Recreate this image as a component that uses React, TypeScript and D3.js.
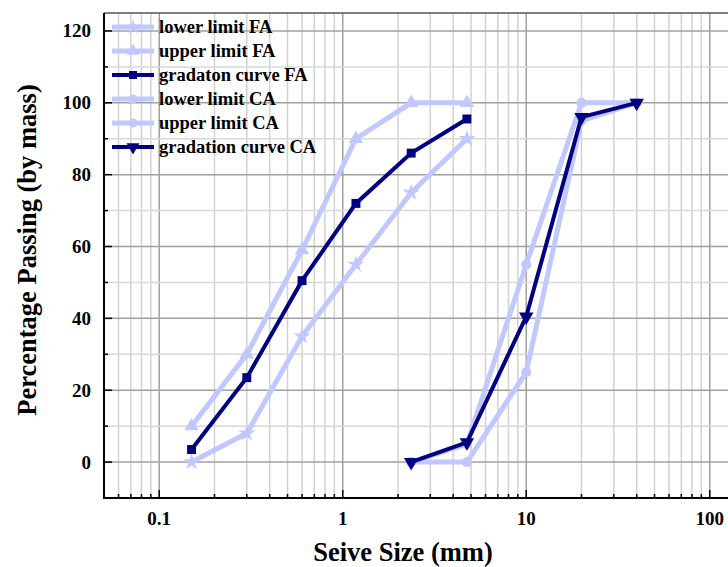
import React from "react";
import * as d3 from "d3";

const sieveFA = [0.15, 0.3, 0.6, 1.18, 2.36, 4.75];
const lowerFA = [0, 8, 35, 55, 75, 90];
const upperFA = [10, 30, 59, 90, 100, 100];
const gradFA = [3.5, 23.5, 50.5, 72, 86, 95.5];

const sieveCALower = [2.36, 4.75, 10, 20, 40];
const lowerCA = [0, 0, 25, 95, 100];
const sieveCAUpper = [2.36, 4.75, 10, 20, 40];
const upperCA = [0, 5, 55, 100, 100];
const sieveCAGrad = [2.36, 4.75, 10, 20, 40];
const gradCA = [0, 5.5, 40.5, 96, 100];

const xTickValues = [0.1, 1, 10, 100];
const xTickLabels = ["0.1", "1", "10", "100"];
const yTickValues = [0, 20, 40, 60, 80, 100, 120];

const LIGHT = "#c0c8ff";
const DARK = "#000080";
const FONT = "'Liberation Serif', 'Times New Roman', serif";

type Series = {
  name: string;
  xs: number[];
  ys: number[];
  color: string;
  width: number;
  symbol: d3.SymbolType;
  rotate: number;
  size: number;
};

const series: Series[] = [
  { name: "lower limit FA", xs: sieveFA, ys: lowerFA, color: LIGHT, width: 5, symbol: d3.symbolStar, rotate: 0, size: 90 },
  { name: "upper limit FA", xs: sieveFA, ys: upperFA, color: LIGHT, width: 5, symbol: d3.symbolTriangle, rotate: 0, size: 90 },
  { name: "gradaton curve FA", xs: sieveFA, ys: gradFA, color: DARK, width: 4, symbol: d3.symbolSquare, rotate: 0, size: 80 },
  { name: "lower limit CA", xs: sieveCALower, ys: lowerCA, color: LIGHT, width: 5, symbol: d3.symbolCircle, rotate: 0, size: 80 },
  { name: "upper limit  CA", xs: sieveCAUpper, ys: upperCA, color: LIGHT, width: 5, symbol: d3.symbolCircle, rotate: 0, size: 80 },
  { name: "gradation curve CA", xs: sieveCAGrad, ys: gradCA, color: DARK, width: 4, symbol: d3.symbolTriangle, rotate: 180, size: 90 },
];

export default function App() {
  const W = 728;
  const H = 567;
  const left = 104;
  const top = 13;
  const bottom = 498;
  const x = d3.scaleLog().domain([0.05, 200]).range([left, left + 183.5 * Math.log10(4000)]);
  const y = d3.scaleLinear().domain([-10, 125]).range([bottom, top]);
  const right = W + 5;

  const minorX: number[] = [];
  for (let e = -2; e <= 2; e++) {
    for (let m = 1; m <= 9; m++) {
      const v = m * Math.pow(10, e);
      if (v >= 0.05 && v <= 200) minorX.push(v);
    }
  }
  const yGrid = d3.range(-10, 121, 10);

  const line = d3
    .line<[number, number]>()
    .x((d) => x(d[0]))
    .y((d) => y(d[1]));

  return (
    <div style={{ position: "absolute", left: 0, top: 0 }}>
      <svg width={W} height={H} style={{ display: "block", background: "#fff" }}>
        {/* vertical grid */}
        {minorX.map((v, i) => {
          const major = Math.abs(Math.log10(v) - Math.round(Math.log10(v))) < 1e-9;
          return (
            <line key={"vx" + i} x1={x(v)} x2={x(v)} y1={top} y2={bottom}
              stroke={major ? "#a0a0a0" : "#d2d2d2"} strokeWidth={1.5} />
          );
        })}
        {/* horizontal grid */}
        {yGrid.map((v) => {
          const major = v % 20 === 0;
          return (
            <line key={"hy" + v} x1={left} x2={right} y1={y(v)} y2={y(v)}
              stroke={major ? "#a0a0a0" : "#d8d8d8"} strokeWidth={1.5} />
          );
        })}

        {/* series */}
        {series.map((s, si) => {
          const pts: [number, number][] = s.xs.map((xv, i) => [xv, s.ys[i]]);
          const sym = d3.symbol().type(s.symbol).size(s.size)();
          return (
            <g key={"s" + si}>
              <path d={line(pts) || ""} fill="none" stroke={s.color} strokeWidth={s.width} strokeLinejoin="miter" />
              {pts.map((p, i) => (
                <path key={i} d={sym || ""} fill={s.color}
                  transform={`translate(${x(p[0])},${y(p[1])}) rotate(${s.rotate})`} />
              ))}
            </g>
          );
        })}

        {/* frame */}
        <line x1={left} x2={right} y1={top} y2={top} stroke="#555" strokeWidth={1.5} />
        <line x1={left} x2={left} y1={top} y2={bottom + 1} stroke="#000" strokeWidth={2} />
        <line x1={left - 1} x2={right} y1={bottom} y2={bottom} stroke="#000" strokeWidth={2} />

        {/* y ticks */}
        {yGrid.map((v) => {
          const major = v % 20 === 0;
          return (
            <line key={"yt" + v} x1={left} x2={left + (major ? 8 : 4)} y1={y(v)} y2={y(v)} stroke="#000" strokeWidth={1.5} />
          );
        })}
        {yTickValues.map((v) => (
          <text key={"yl" + v} x={91} y={y(v) + 6.5} textAnchor="end" fontFamily={FONT}
            fontWeight="bold" fontSize={19} fill="#000">{v}</text>
        ))}
        {/* x ticks */}
        {minorX.map((v, i) => {
          const major = Math.abs(Math.log10(v) - Math.round(Math.log10(v))) < 1e-9;
          return (
            <line key={"xt" + i} x1={x(v)} x2={x(v)} y1={bottom} y2={bottom - (major ? 8 : 4)} stroke="#000" strokeWidth={1.5} />
          );
        })}
        {xTickValues.map((v, i) => (
          <text key={"xl" + i} x={x(v)} y={525} textAnchor="middle" fontFamily={FONT}
            fontWeight="bold" fontSize={19} fill="#000">{xTickLabels[i]}</text>
        ))}

        {/* axis titles */}
        <text x={403} y={561} textAnchor="middle" fontFamily={FONT} fontWeight="bold" fontSize={26.5} fill="#000">
          Seive Size (mm)
        </text>
        <text transform="translate(36,250) rotate(-90)" textAnchor="middle" fontFamily={FONT}
          fontWeight="bold" fontSize={26.5} fill="#000">
          Percentage Passing (by mass)
        </text>

        {/* legend */}
        {series.map((s, i) => {
          const ly = 27 + i * 24;
          const sym = d3.symbol().type(s.symbol).size(s.size * 0.8)();
          return (
            <g key={"lg" + i}>
              <line x1={112} x2={154} y1={ly} y2={ly} stroke={s.color} strokeWidth={s.width} />
              <path d={sym || ""} fill={s.color} transform={`translate(133,${ly}) rotate(${s.rotate})`} />
              <text x={159} y={ly + 6} fontFamily={FONT} fontWeight="bold" fontSize={18.5} fill="#000">{s.name}</text>
            </g>
          );
        })}
      </svg>
    </div>
  );
}
